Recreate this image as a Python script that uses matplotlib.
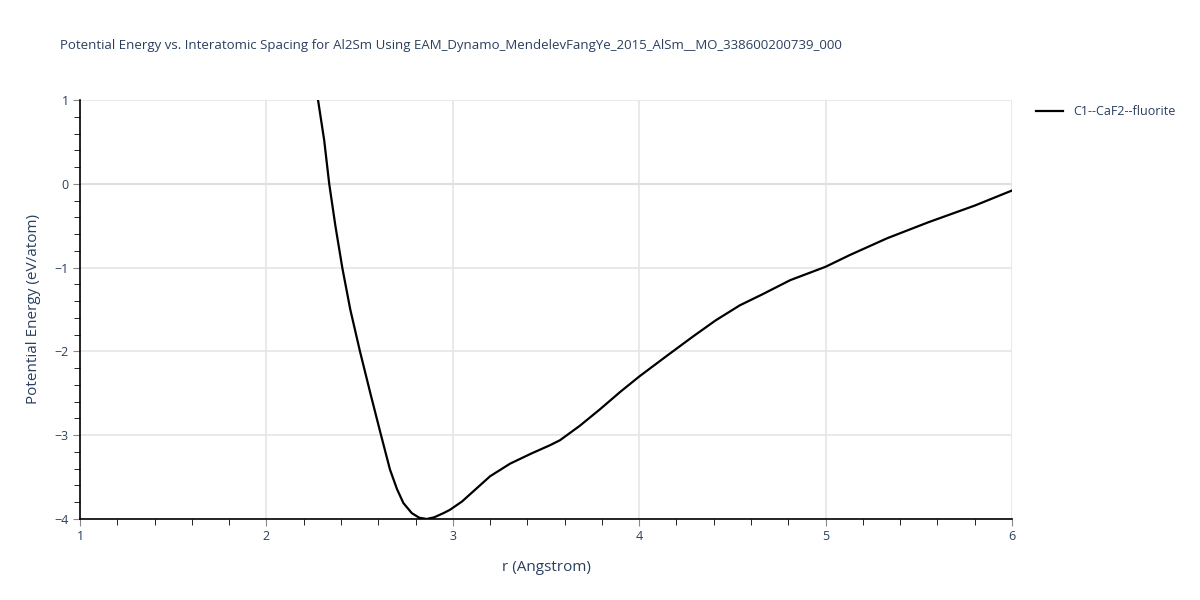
import matplotlib.pyplot as plt
from matplotlib.ticker import MultipleLocator

title = "Potential Energy vs. Interatomic Spacing for Al2Sm Using EAM_Dynamo_MendelevFangYe_2015_AlSm__MO_338600200739_000"
series_name = "C1--CaF2--fluorite"

# r (Angstrom) and energy (eV/atom)
r = [2.277, 2.31, 2.337, 2.37, 2.407, 2.45, 2.502, 2.56, 2.615, 2.663, 2.70,
     2.735, 2.78, 2.82, 2.86, 2.90, 2.95, 2.985, 3.05, 3.12, 3.20, 3.307,
     3.42, 3.521, 3.575, 3.68, 3.79, 3.90, 4.0, 4.15, 4.29, 4.41, 4.54,
     4.66, 4.81, 5.0, 5.13, 5.33, 5.55, 5.8, 6.0]
energy = [1.0, 0.52, 0.0, -0.5, -1.0, -1.5, -2.0, -2.52, -3.0, -3.41, -3.64,
          -3.81, -3.93, -3.985, -4.0, -3.98, -3.93, -3.89, -3.79, -3.65, -3.49,
          -3.34, -3.22, -3.12, -3.06, -2.89, -2.69, -2.48, -2.30, -2.05, -1.82,
          -1.63, -1.45, -1.32, -1.15, -0.99, -0.85, -0.65, -0.46, -0.26, -0.08]

text_color = "#2a3f5f"
plt.rcParams["font.family"] = ["Open Sans", "DejaVu Sans"]

fig = plt.figure(figsize=(12, 6), dpi=100)
ax = fig.add_axes([80 / 1200, 1 - 519 / 600, 932 / 1200, 419 / 600])

ax.axhline(0, color="#c4c4c4", lw=1.5, zorder=1)
ax.plot(r, energy, color="black", lw=1.6, label=series_name, zorder=3,
        solid_joinstyle="round")

ax.set_xlim(1, 6)
ax.set_ylim(-4, 1)
ax.xaxis.set_major_locator(MultipleLocator(1))
ax.xaxis.set_minor_locator(MultipleLocator(0.2))
ax.yaxis.set_major_locator(MultipleLocator(1))
ax.yaxis.set_minor_locator(MultipleLocator(0.2))
ax.grid(True, which="major", color="#e5e5e5", lw=1.2, zorder=0)

for side in ["top", "right"]:
    ax.spines[side].set_visible(False)
for side in ["left", "bottom"]:
    ax.spines[side].set_color("black")
    ax.spines[side].set_linewidth(1.2)

ax.tick_params(which="major", length=5, color="#888888", labelsize=9, labelcolor=text_color, pad=3)
ax.tick_params(which="minor", length=4, color="black")
ax.set_yticks([1, 0, -1, -2, -3, -4])
ax.set_yticklabels(["1", "0", "\u22121", "\u22122", "\u22123", "\u22124"])

ax.set_xlabel("r (Angstrom)", fontsize=11, color=text_color, labelpad=12)
ax.set_ylabel("Potential Energy (eV/atom)", fontsize=11, color=text_color, labelpad=10)

fig.text(60 / 1200, 1 - 45 / 600, title, fontsize=9.5, color=text_color, va="center", ha="left")

ax.legend(loc="upper left", bbox_to_anchor=(1.02, 1.0), frameon=False,
          fontsize=9, labelcolor=text_color, handlelength=2.2, borderaxespad=0)

fig.savefig("out.png", dpi=100)
